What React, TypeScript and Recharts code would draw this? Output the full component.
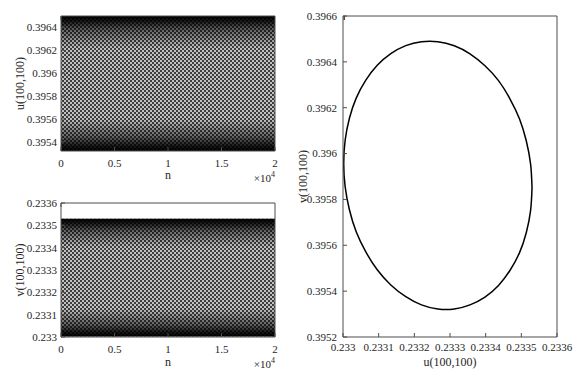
import { AreaChart, Area, LineChart, Line, XAxis, YAxis, Label } from 'recharts';

// time series bands (the orbit is periodic, so u and v sweep between fixed bounds)
const nValues = [0, 5000, 10000, 15000, 20000];
const uLow = [0.39532, 0.39532, 0.39532, 0.39532, 0.39532];
const uHigh = [0.3965, 0.3965, 0.3965, 0.3965, 0.3965];
const vLow = [0.233002, 0.233002, 0.233002, 0.233002, 0.233002];
const vHigh = [0.23353, 0.23353, 0.23353, 0.23353, 0.23353];

// phase portrait, every 10 degrees
const ellipseX = [
  0.23353, 0.233526, 0.233514, 0.233495, 0.233468, 0.233436, 0.233398, 0.233356, 0.233312,
  0.233266, 0.23322, 0.233176, 0.233134, 0.233096, 0.233064, 0.233037, 0.233018, 0.233006,
  0.233002, 0.233006, 0.233018, 0.233037, 0.233064, 0.233096, 0.233134, 0.233176, 0.23322,
  0.233266, 0.233312, 0.233356, 0.233398, 0.233436, 0.233468, 0.233495, 0.233514, 0.233526,
  0.23353,
];
const ellipseY = [
  0.395852, 0.395954, 0.396055, 0.396151, 0.396239, 0.396318, 0.396383, 0.396435, 0.39647,
  0.396488, 0.396488, 0.396471, 0.396436, 0.396385, 0.39632, 0.396242, 0.396154, 0.396058,
  0.395958, 0.395856, 0.395755, 0.395659, 0.395571, 0.395493, 0.395427, 0.395376, 0.39534,
  0.395322, 0.395322, 0.39534, 0.395374, 0.395425, 0.39549, 0.395568, 0.395656, 0.395752,
  0.395852,
];

// ticks
const nTicks = [0, 5000, 10000, 15000, 20000];
const uTicks = [0.3954, 0.3956, 0.3958, 0.396, 0.3962, 0.3964];
const vTicks = [0.233, 0.2331, 0.2332, 0.2333, 0.2334, 0.2335, 0.2336];
const phaseXTicks = [0.233, 0.2331, 0.2332, 0.2333, 0.2334, 0.2335, 0.2336];
const phaseYTicks = [0.3952, 0.3954, 0.3956, 0.3958, 0.396, 0.3962, 0.3964, 0.3966];

const uBand = nValues.map((n, i) => ({ n, band: [uLow[i], uHigh[i]] }));
const vBand = nValues.map((n, i) => ({ n, band: [vLow[i], vHigh[i]] }));
const phase = ellipseX.map((x, i) => ({ x, y: ellipseY[i] }));

const FONT = '"Liberation Serif", "Times New Roman", serif';
const AXIS = '#4d4d4d';
const TEXT = '#262626';
const tickStyle = { fill: TEXT, fontSize: 11, fontFamily: FONT };
const labelStyle = { fill: TEXT, fontSize: 12, fontFamily: FONT };

const fmtN = (v: number) => String(v / 10000);
const fmtVal = (v: number) => String(+v.toFixed(4));
const blank = () => '';

const Exponent = ({ viewBox }: any) => (
  <text
    x={viewBox.x + viewBox.width}
    y={viewBox.y + 31}
    textAnchor="end"
    fill={TEXT}
    fontSize={11}
    fontFamily={FONT}
  >
    ×10<tspan dy={-5} fontSize={8}>4</tspan>
  </text>
);

// mesh texture + darker edges where the oscillation lingers at its extremes
const BandDefs = ({ id }: { id: string }) => (
  <defs>
    <pattern id={`${id}-mesh`} width={4} height={4} patternUnits="userSpaceOnUse">
      <rect width={4} height={4} fill="#3c3c3c" />
      <rect x={0} y={0} width={2} height={2} fill="#c2c2c2" />
      <rect x={2} y={2} width={2} height={2} fill="#c2c2c2" />
    </pattern>
    <linearGradient id={`${id}-edge`} x1="0" y1="0" x2="0" y2="1">
      <stop offset="0%" stopColor="#000" stopOpacity={1} />
      <stop offset="4%" stopColor="#000" stopOpacity={0.85} />
      <stop offset="10%" stopColor="#000" stopOpacity={0.5} />
      <stop offset="24%" stopColor="#000" stopOpacity={0} />
      <stop offset="76%" stopColor="#000" stopOpacity={0} />
      <stop offset="90%" stopColor="#000" stopOpacity={0.5} />
      <stop offset="96%" stopColor="#000" stopOpacity={0.85} />
      <stop offset="100%" stopColor="#000" stopOpacity={1} />
    </linearGradient>
  </defs>
);

export default function App() {
  return (
    <div style={{ position: 'absolute', left: 0, top: 0, width: 580, height: 377, background: '#fff' }}>
      {/* u(100,100) vs n */}
      <div style={{ position: 'absolute', left: 0, top: 0 }}>
        <AreaChart width={290} height={190} data={uBand} margin={{ top: 15, right: 14, bottom: 0, left: 0 }}>
          <BandDefs id="u" />
          <XAxis
            dataKey="n"
            type="number"
            domain={[0, 20000]}
            ticks={nTicks}
            tickFormatter={fmtN}
            tickSize={-4}
            tickMargin={12}
            height={39}
            stroke={AXIS}
            tick={tickStyle}
          >
            <Label value="n" position="insideBottom" offset={11} style={labelStyle} />
            <Label content={Exponent} />
          </XAxis>
          <XAxis xAxisId="top" orientation="top" type="number" domain={[0, 20000]} ticks={nTicks}
            tickFormatter={blank} tickSize={-4} height={1} stroke={AXIS} />
          <YAxis
            type="number"
            domain={[0.39532, 0.3965]}
            allowDataOverflow
            ticks={uTicks}
            tickFormatter={fmtVal}
            tickSize={-4}
            tickMargin={8}
            width={61}
            stroke={AXIS}
            tick={tickStyle}
            label={{ value: 'u(100,100)', angle: -90, position: 'insideLeft', offset: 20, style: { ...labelStyle, textAnchor: 'middle' } }}
          />
          <YAxis yAxisId="right" orientation="right" type="number" domain={[0.39532, 0.3965]} ticks={uTicks}
            tickFormatter={blank} tickSize={-4} width={1} stroke={AXIS} />
          <Area dataKey="band" type="linear" stroke="none" fill="url(#u-mesh)" fillOpacity={1} isAnimationActive={false} />
          <Area dataKey="band" type="linear" stroke="none" fill="url(#u-edge)" fillOpacity={1} isAnimationActive={false} />
        </AreaChart>
      </div>

      {/* v(100,100) vs n */}
      <div style={{ position: 'absolute', left: 0, top: 190 }}>
        <AreaChart width={290} height={187} data={vBand} margin={{ top: 12, right: 14, bottom: 0, left: 0 }}>
          <BandDefs id="v" />
          <XAxis
            dataKey="n"
            type="number"
            domain={[0, 20000]}
            ticks={nTicks}
            tickFormatter={fmtN}
            tickSize={-4}
            tickMargin={12}
            height={40}
            stroke={AXIS}
            tick={tickStyle}
          >
            <Label value="n" position="insideBottom" offset={11} style={labelStyle} />
            <Label content={Exponent} />
          </XAxis>
          <XAxis xAxisId="top" orientation="top" type="number" domain={[0, 20000]} ticks={nTicks}
            tickFormatter={blank} tickSize={-4} height={1} stroke={AXIS} />
          <YAxis
            type="number"
            domain={[0.233, 0.2336]}
            allowDataOverflow
            ticks={vTicks}
            tickFormatter={fmtVal}
            tickSize={-4}
            tickMargin={8}
            width={61}
            stroke={AXIS}
            tick={tickStyle}
            label={{ value: 'v(100,100)', angle: -90, position: 'insideLeft', offset: 20, style: { ...labelStyle, textAnchor: 'middle' } }}
          />
          <YAxis yAxisId="right" orientation="right" type="number" domain={[0.233, 0.2336]} ticks={vTicks}
            tickFormatter={blank} tickSize={-4} width={1} stroke={AXIS} />
          <Area dataKey="band" type="linear" stroke="none" fill="url(#v-mesh)" fillOpacity={1} isAnimationActive={false} />
          <Area dataKey="band" type="linear" stroke="none" fill="url(#v-edge)" fillOpacity={1} isAnimationActive={false} />
        </AreaChart>
      </div>

      {/* phase portrait */}
      <div style={{ position: 'absolute', left: 290, top: 0 }}>
        <LineChart width={290} height={377} data={phase} margin={{ top: 15, right: 22, bottom: 0, left: 0 }}>
          <XAxis
            dataKey="x"
            type="number"
            domain={[0.233, 0.2336]}
            allowDataOverflow
            ticks={phaseXTicks}
            tickFormatter={fmtVal}
            tickSize={-4}
            tickMargin={10}
            height={40}
            stroke={AXIS}
            tick={tickStyle}
            interval={0}
            label={{ value: 'u(100,100)', position: 'insideBottom', offset: 11, style: labelStyle }}
          />
          <XAxis xAxisId="top" orientation="top" type="number" domain={[0.233, 0.2336]} ticks={phaseXTicks}
            tickFormatter={blank} tickSize={-4} height={1} stroke={AXIS} interval={0} />
          <YAxis
            type="number"
            domain={[0.3952, 0.3966]}
            allowDataOverflow
            ticks={phaseYTicks}
            tickFormatter={fmtVal}
            tickSize={-4}
            tickMargin={10}
            width={53}
            stroke={AXIS}
            tick={tickStyle}
            interval={0}
            label={{ value: 'v(100,100)', angle: -90, position: 'insideLeft', offset: 13, style: { ...labelStyle, textAnchor: 'middle' } }}
          />
          <YAxis yAxisId="right" orientation="right" type="number" domain={[0.3952, 0.3966]} ticks={phaseYTicks}
            tickFormatter={blank} tickSize={-4} width={1} stroke={AXIS} interval={0} />
          <Line dataKey="y" type="natural" stroke="#000" strokeWidth={1.5} dot={false} isAnimationActive={false} />
        </LineChart>
      </div>
    </div>
  );
}
